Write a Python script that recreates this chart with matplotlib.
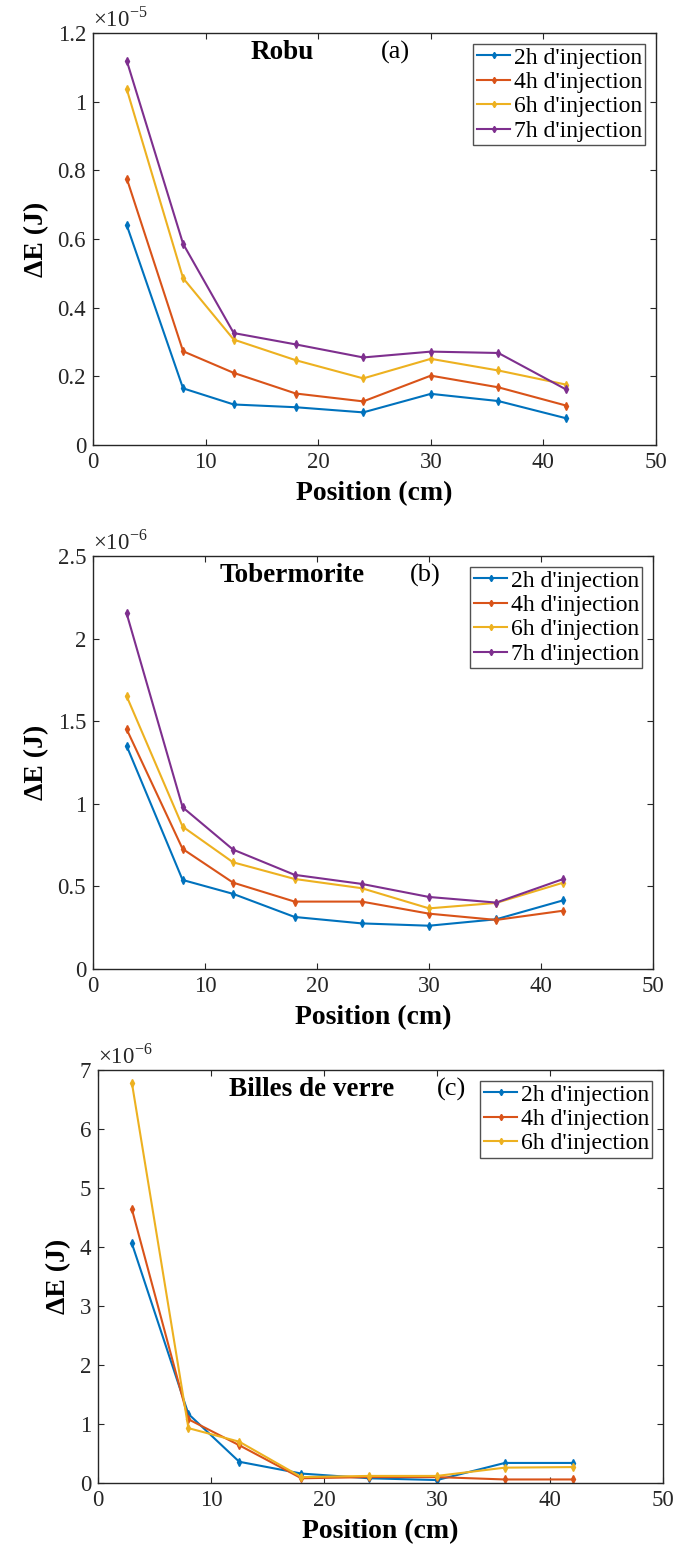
import matplotlib
matplotlib.use("Agg")
import matplotlib.pyplot as plt
from matplotlib.ticker import FuncFormatter

plt.rcParams['font.family'] = ['Liberation Serif', 'DejaVu Serif']
plt.rcParams['mathtext.fontset'] = 'custom'
plt.rcParams['mathtext.rm'] = 'Liberation Serif'

positions = [3, 8, 12.5, 18, 24, 30, 36, 42]
labels4 = ["2h d'injection", "4h d'injection", "6h d'injection", "7h d'injection"]
colors = ['#0072BD', '#D95319', '#EDB120', '#7E2F8E']

# Panel (a) Robu, units of 1e-5 J
robu_2h = [0.640, 0.165, 0.118, 0.110, 0.095, 0.149, 0.128, 0.078]
robu_4h = [0.776, 0.273, 0.210, 0.150, 0.127, 0.202, 0.168, 0.115]
robu_6h = [1.036, 0.486, 0.307, 0.247, 0.194, 0.251, 0.217, 0.176]
robu_7h = [1.119, 0.586, 0.326, 0.293, 0.255, 0.272, 0.268, 0.162]

# Panel (b) Tobermorite, units of 1e-6 J
tob_2h = [1.351, 0.539, 0.455, 0.315, 0.276, 0.262, 0.301, 0.416]
tob_4h = [1.452, 0.727, 0.523, 0.408, 0.408, 0.335, 0.297, 0.353]
tob_6h = [1.652, 0.862, 0.646, 0.545, 0.489, 0.367, 0.400, 0.523]
tob_7h = [2.153, 0.979, 0.723, 0.570, 0.515, 0.436, 0.402, 0.545]

# Panel (c) Billes de verre, units of 1e-6 J
bil_2h = [4.06, 1.17, 0.36, 0.16, 0.08, 0.05, 0.34, 0.34]
bil_4h = [4.64, 1.08, 0.64, 0.08, 0.10, 0.10, 0.06, 0.06]
bil_6h = [6.78, 0.93, 0.70, 0.10, 0.12, 0.12, 0.26, 0.27]

W, H = 675, 1555
fig = plt.figure(figsize=(W / 100, H / 100), dpi=100)


def px_axes(left, top, right, bottom):
    return fig.add_axes([left / W, 1 - bottom / H, (right - left) / W, (bottom - top) / H])


fmt = FuncFormatter(lambda v, p: ('%g' % round(v, 6)))


def panel(box, series, labs, ymax, yticks, exp, title, tag, title_xy, tag_xy):
    ax = px_axes(*box)
    for s, c, lab in zip(series, colors, labs):
        ax.plot(positions, s, color=c, lw=1.5, marker='d', ms=4, label=lab)
    ax.set_xlim(0, 50)
    ax.set_ylim(0, ymax)
    ax.set_xticks([0, 10, 20, 30, 40, 50])
    ax.set_yticks(yticks)
    ax.yaxis.set_major_formatter(fmt)
    ax.tick_params(direction='in', top=True, right=True, length=4, width=0.8,
                   labelsize=16.5, colors='#262626', pad=5)
    for sp in ax.spines.values():
        sp.set_color('#262626')
        sp.set_linewidth(1.0)
    ax.set_xlabel('Position (cm)', fontsize=20, fontweight='bold', labelpad=6)
    ax.set_ylabel('ΔE (J)', fontsize=20, fontweight='bold', labelpad=6)
    ax.text(0.0, 1.003, r'$\times 10^{%d}$' % exp, transform=ax.transAxes,
            fontsize=16.5, color='#262626', ha='left', va='bottom')
    left, top, right, bottom = box
    fx = lambda x: (x - left) / (right - left)
    fy = lambda y: (bottom - y) / (bottom - top)
    ax.text(fx(title_xy[0]), fy(title_xy[1]), title, transform=ax.transAxes,
            fontsize=19.5, fontweight='bold', ha='center', va='center')
    ax.text(fx(tag_xy[0]), fy(tag_xy[1]), tag, transform=ax.transAxes,
            fontsize=19, ha='center', va='center')
    leg = ax.legend(loc='upper right', fontsize=17, frameon=True, fancybox=False,
                    handlelength=1.4, handletextpad=0.15, borderpad=0.15,
                    labelspacing=0.12, borderaxespad=0.45, markerscale=0.8)
    leg.get_frame().set_edgecolor('#262626')
    leg.get_frame().set_linewidth(1.0)
    return ax


panel((93, 33, 656, 445), [robu_2h, robu_4h, robu_6h, robu_7h], labels4,
      1.2, [0, 0.2, 0.4, 0.6, 0.8, 1.0, 1.2], -5, 'Robu', '(a)', (282, 52), (395, 52))
panel((93, 556, 653, 969), [tob_2h, tob_4h, tob_6h, tob_7h], labels4,
      2.5, [0, 0.5, 1.0, 1.5, 2.0, 2.5], -6, 'Tobermorite', '(b)', (292, 575), (425, 575))
panel((98, 1070, 663, 1483), [bil_2h, bil_4h, bil_6h], labels4[:3],
      7, [0, 1, 2, 3, 4, 5, 6, 7], -6, 'Billes de verre', '(c)', (312, 1089), (452, 1089))

fig.savefig('out.png', dpi=100)
